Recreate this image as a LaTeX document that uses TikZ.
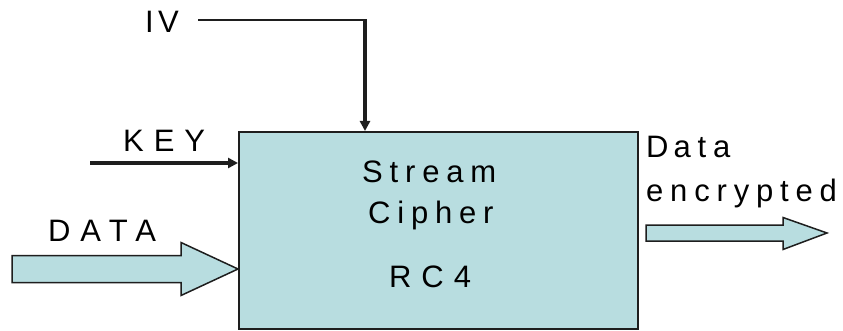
\documentclass[tikz,border=0pt]{standalone}
\usepackage{fontspec}
\setmainfont{Liberation Sans}
\usetikzlibrary{arrows.meta,calc}
\definecolor{cfill}{RGB}{184,221,224}
\definecolor{cline}{RGB}{30,30,30}
\begin{document}
\begin{tikzpicture}[x=1pt,y=-1pt,
  txt/.style={inner sep=0pt, anchor=base west, text=black, font=\fontsize{31}{36}\selectfont},
  capsp/.style={execute at begin node=\addfontfeatures{LetterSpace=32}},
  ivsp/.style={execute at begin node=\addfontfeatures{LetterSpace=14}},
  lowsp/.style={execute at begin node=\addfontfeatures{LetterSpace=22}},
  cipherbox/.style={draw=cline, line width=2pt, fill=cfill, inner sep=0pt, anchor=north west},
  blockarrow/.style={draw=cline, line width=1.5pt, fill=cfill, line join=miter},
  inarrow/.style={draw=cline, line width=3.2pt, -{Triangle[length=10pt,width=10pt]}}]
\useasboundingbox[fill=white] (0,0) rectangle (843,331);
% main box
\node[cipherbox, minimum width=399pt, minimum height=197pt] (cipher) at (238,131) {};
\node[txt, lowsp] (stream) at (362,183) {Stream};
\node[txt, lowsp] (ciph) at (368,223) {Cipher};
\node[txt, capsp] (rc4) at (389,287) {RC4};
% labels
\node[txt, ivsp] (iv) at (145,33) {IV};
\node[txt, capsp] (key) at (123,152) {KEY};
\node[txt, capsp] (data) at (48,241) {DATA};
\node[txt, lowsp] (dout1) at (646,158) {D\kern5pt ata};
\node[txt, lowsp] (dout2) at (646,202) {encrypted};
% IV connector
\coordinate (ivstart) at (198,20);
\coordinate (ivcorner) at (365,20);
\draw[cline, line width=1.5pt] (ivstart) -- (ivcorner);
\draw[inarrow] ($(ivcorner)+(0,-0.75)$) -- (ivcorner |- cipher.north);
% KEY connector
\coordinate (keystart) at (90,163);
\draw[inarrow] (keystart) -- (keystart -| cipher.west);
% DATA block arrow
\coordinate (dlevel) at (0,269);
\coordinate (dtail) at (12,269);
\coordinate (dtip) at (cipher.west |- dlevel);
\draw[blockarrow] ($(dtail)+(0,-13.5)$) -- ($(dtip)+(-57,-13.5)$) -- ($(dtip)+(-57,-26.5)$)
  -- (dtip) -- ($(dtip)+(-57,26.5)$) -- ($(dtip)+(-57,13.5)$) -- ($(dtail)+(0,13.5)$) -- cycle;
% output block arrow
\coordinate (otail) at (646,233);
\coordinate (otip) at (827,233);
\draw[blockarrow] ($(otail)+(0,-8)$) -- ($(otip)+(-44,-8)$) -- ($(otip)+(-44,-15.5)$)
  -- (otip) -- ($(otip)+(-44,16.5)$) -- ($(otip)+(-44,8)$) -- ($(otail)+(0,8)$) -- cycle;
\end{tikzpicture}
\end{document}
